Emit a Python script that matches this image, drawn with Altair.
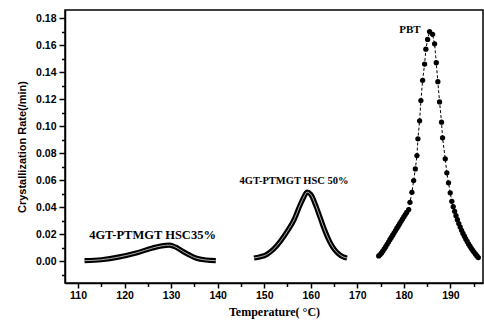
import altair as alt
import pandas as pd

# PBT (filled circles, dashed connecting line)
pbt_t = [174.6, 174.9, 175.2, 175.5, 175.8, 176.1, 176.4, 176.7, 177.0, 177.3, 177.6, 177.9,
         178.2, 178.5, 178.8, 179.1, 179.4, 179.7, 180.0, 180.3, 180.6, 181.03, 181.31, 181.73,
         182.10, 182.46, 182.81, 183.02, 183.38, 183.66, 184.03, 184.45, 184.73, 185.10, 185.52,
         186.17, 186.60, 186.96, 187.30, 187.67, 188.09, 188.31, 188.89, 189.23, 189.59, 189.96,
         190.30, 190.6, 190.9, 191.2, 191.5, 191.8, 192.1, 192.4, 192.7, 193.0, 193.3, 193.6,
         193.9, 194.2, 194.5, 194.8, 195.1, 195.4, 195.7, 196.0]
pbt_r = [0.0040, 0.0050, 0.0062, 0.0077, 0.0093, 0.0109, 0.0126, 0.0143, 0.0160, 0.0177, 0.0194, 0.0211,
         0.0228, 0.0245, 0.0262, 0.0279, 0.0296, 0.0313, 0.0330, 0.0346, 0.0362, 0.0383, 0.0437, 0.0511,
         0.0598, 0.0684, 0.0783, 0.0907, 0.1040, 0.1190, 0.1340, 0.1460, 0.1570, 0.1642, 0.1700,
         0.1680, 0.1610, 0.1470, 0.1330, 0.1180, 0.1030, 0.0914, 0.0759, 0.0655, 0.0581, 0.0507,
         0.0444, 0.0405, 0.0370, 0.0338, 0.0308, 0.0280, 0.0254, 0.0230, 0.0207, 0.0186, 0.0166, 0.0147,
         0.0129, 0.0112, 0.0096, 0.0081, 0.0067, 0.0053, 0.0040, 0.0028]

# 4GT-PTMGT HSC 50%
h50_t = [147.8, 149.0, 150.5, 152.0, 153.5, 155.0, 156.5, 157.5, 158.5, 159.2, 160.0, 161.0, 162.0,
         163.0, 164.0, 165.0, 166.0, 167.0, 167.8]
h50_r = [0.0025, 0.0033, 0.0050, 0.0090, 0.0150, 0.0225, 0.0315, 0.0400, 0.0475, 0.0512, 0.0495, 0.0420,
         0.0325, 0.0230, 0.0150, 0.0092, 0.0055, 0.0033, 0.0025]

# 4GT-PTMGT HSC35%
h35_t = [111.4, 115.0, 118.9, 122.5, 126.0, 128.0, 129.6, 131.0, 132.5, 135.3, 137.5, 139.6]
h35_r = [0.0005, 0.0012, 0.0033, 0.0062, 0.0099, 0.0115, 0.0120, 0.0105, 0.0074, 0.0025, 0.0010, 0.0005]

label_text = ["PBT", "4GT-PTMGT HSC 50%", "4GT-PTMGT HSC35%"]
label_t = [183.6, 156.4, 126.0]
label_r = [0.1712, 0.0595, 0.0198]
label_size = [11, 10.5, 12.5]
label_align = ["right", "center", "center"]

x_major = [110, 120, 130, 140, 150, 160, 170, 180, 190]
x_minor = [115, 125, 135, 145, 155, 165, 175, 185, 195]
y_major = [0.00, 0.02, 0.04, 0.06, 0.08, 0.10, 0.12, 0.14, 0.16, 0.18]
y_minor = [-0.01, 0.01, 0.03, 0.05, 0.07, 0.09, 0.11, 0.13, 0.15, 0.17]

pbt = pd.DataFrame({"T": pbt_t, "R": pbt_r})
h50 = pd.DataFrame({"T": h50_t, "R": h50_r})
h35 = pd.DataFrame({"T": h35_t, "R": h35_r})
curves = pd.concat([h50.assign(s="50"), h35.assign(s="35")])

xs = alt.Scale(domain=[107.2, 197], nice=False, zero=False)
ys = alt.Scale(domain=[-0.016, 0.186], nice=False, zero=False)

tick_font = "Liberation Sans"

x_axis = alt.Axis(values=x_major, format="d", title="Temperature( \u00b0C)", orient="bottom",
                  titleFont="Liberation Serif", titleFontSize=12, titleFontWeight="bold",
                  titlePadding=6, labelFont=tick_font, labelFontSize=10.5, labelFontWeight="bold",
                  labelColor="black", titleColor="black", tickColor="black", domainColor="black",
                  domainWidth=1.5, tickWidth=1.5, tickSize=5, labelPadding=2, grid=False)
y_axis = alt.Axis(values=y_major, format=".2f", title="Crystallization Rate(/min)", orient="left",
                  titleFont=tick_font, titleFontSize=11, titleFontWeight="bold", titlePadding=8,
                  labelFont=tick_font, labelFontSize=10.5, labelFontWeight="bold",
                  labelColor="black", titleColor="black", tickColor="black", domainColor="black",
                  domainWidth=1.5, tickWidth=1.5, tickSize=6, labelPadding=3, grid=False)

x_minor_axis = alt.Axis(values=x_minor, labels=False, title=None, orient="bottom", domain=False,
                        tickColor="black", tickWidth=1.5, tickSize=3.5, grid=False)
y_minor_axis = alt.Axis(values=y_minor, labels=False, title=None, orient="left", domain=False,
                        tickColor="black", tickWidth=1.5, tickSize=3.5, grid=False)


def enc(axis_x=None, axis_y=None):
    return dict(x=alt.X("T:Q", scale=xs, axis=axis_x), y=alt.Y("R:Q", scale=ys, axis=axis_y))


base_line = alt.Chart(curves).mark_line(color="black", strokeWidth=5.2, interpolate="monotone").encode(
    detail="s:N", **enc(x_axis, y_axis)
)
inner_line = alt.Chart(curves).mark_line(color="#d8d8d8", strokeWidth=0.8, interpolate="monotone").encode(
    detail="s:N", **enc()
)
pbt_line = alt.Chart(pbt).mark_line(color="black", strokeWidth=1, strokeDash=[3, 2]).encode(**enc())
pbt_pts = alt.Chart(pbt).mark_circle(color="black", size=28, opacity=1).encode(**enc())

label_layers = []
for i in range(len(label_text)):
    df = pd.DataFrame({"t": [label_text[i]], "T": [label_t[i]], "R": [label_r[i]]})
    label_layers.append(
        alt.Chart(df).mark_text(font="Liberation Serif", fontWeight="bold", color="black",
                                baseline="middle", align=label_align[i], fontSize=label_size[i]).encode(
            text="t:N", **enc()
        )
    )

minor = alt.Chart(pbt).mark_point(opacity=0).encode(**enc(x_minor_axis, y_minor_axis))

chart = alt.layer(base_line, inner_line, pbt_line, pbt_pts, *label_layers, minor).resolve_axis(
    x="independent", y="independent"
).properties(
    width=418, height=273,
    padding={"left": 65, "top": 10, "right": 1, "bottom": 44},
    autosize=alt.AutoSizeParams(type="none"),
    background="white",
).configure_view(stroke="black", strokeWidth=1.5)

chart.save("out.html", embed_options={"renderer": "svg", "actions": False})
